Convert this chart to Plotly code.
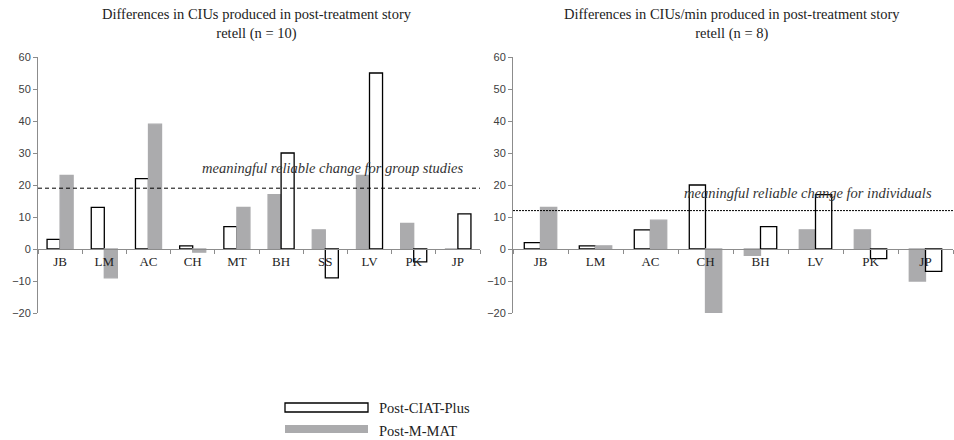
import plotly.graph_objects as go

# ---- data ----
cats1 = ["JB", "LM", "AC", "CH", "MT", "BH", "SS", "LV", "PK", "JP"]
ciat1 = [3, 13, 22, 1, 7, 30, -9, 55, -4, 11]
mmat1 = [23, -9, 39, -1, 13, 17, 6, 23, 8, 0]
ciat_first1 = [True, True, True, True, True, False, False, False, False, False]
threshold1 = 19

cats2 = ["JB", "LM", "AC", "CH", "BH", "LV", "PK", "JP"]
ciat2 = [2, 1, 6, 20, 7, 17, -3, -7]
mmat2 = [13, 1, 9, -20, -2, 6, 6, -10]
ciat_first2 = [True, True, True, True, False, False, False, False]
threshold2 = 12

title1 = "Differences in CIUs produced in post-treatment story<br>retell (n = 10)"
title2 = "Differences in CIUs/min produced in post-treatment story<br>retell (n = 8)"
note1 = "meaningful reliable change for group studies"
note2 = "meaningful reliable change for individuals"
legend_labels = ["Post-CIAT-Plus", "Post-M-MAT"]

# ---- styling ----
W, H = 954, 440
GRAY = "#ABABAD"
WHITE = "#FFFFFF"
AXIS = "#8C8C8C"
SERIF = "Liberation Serif, Times New Roman, serif"
SANS = "Liberation Sans, Arial, sans-serif"


def px_x(p):
    return p / W


def px_y(p):
    return 1 - p / H


fig = go.Figure()


def add_chart(cats, ciat, mmat, first, xa, ya):
    left_y, right_y, left_c, right_c, left_l, right_l = [], [], [], [], [], []
    for c, m, f in zip(ciat, mmat, first):
        if f:
            left_y.append(c); right_y.append(m)
            left_c.append(WHITE); right_c.append(GRAY)
            left_l.append("#000000"); right_l.append(GRAY)
        else:
            left_y.append(m); right_y.append(c)
            left_c.append(GRAY); right_c.append(WHITE)
            left_l.append(GRAY); right_l.append("#000000")
    for yy, cc, ll in ((left_y, left_c, left_l), (right_y, right_c, right_l)):
        fig.add_trace(go.Bar(
            x=cats, y=yy, xaxis=xa, yaxis=ya, showlegend=False,
            marker=dict(color=cc, line=dict(color=ll, width=1.3)),
        ))


add_chart(cats1, ciat1, mmat1, ciat_first1, "x", "y")
add_chart(cats2, ciat2, mmat2, ciat_first2, "x2", "y2")

ydom = [px_y(313), px_y(57)]
zero_pos = ydom[0] + 20 / 80 * (ydom[1] - ydom[0])

xcommon = dict(
    type="category", showline=True, linecolor=AXIS, linewidth=1,
    ticks="outside", tickson="boundaries", ticklen=4, tickcolor=AXIS,
    tickfont=dict(family=SERIF, size=13, color="#222222"),
    showgrid=False, zeroline=False, anchor="free", position=zero_pos,
    automargin=False,
)
ycommon = dict(
    range=[-20, 60], dtick=10, showline=True, linecolor=AXIS, linewidth=1,
    ticks="outside", ticklen=4, tickcolor=AXIS, showgrid=False, zeroline=False,
    tickfont=dict(family=SANS, size=11, color="#404040"), domain=ydom,
    automargin=False,
)

fig.update_layout(
    width=W, height=H, margin=dict(l=0, r=0, t=0, b=0, pad=0, autoexpand=False),
    paper_bgcolor="white", plot_bgcolor="white",
    barmode="group", bargap=0.41, bargroupgap=0,
    xaxis=dict(xcommon, domain=[px_x(38), px_x(480)]),
    yaxis=dict(ycommon, anchor="x"),
    xaxis2=dict(xcommon, domain=[px_x(513), px_x(953)]),
    yaxis2=dict(ycommon, anchor="x2"),
    showlegend=False,
)

shapes = [
    dict(type="line", xref="x domain", yref="y", x0=0, x1=1, y0=threshold1, y1=threshold1,
         line=dict(color="#000000", width=1, dash="4px,3px")),
    dict(type="line", xref="x2 domain", yref="y2", x0=0, x1=1, y0=threshold2, y1=threshold2,
         line=dict(color="#000000", width=1, dash="2px,1px")),
    # legend swatches
    dict(type="rect", xref="paper", yref="paper", x0=px_x(285), x1=px_x(368),
         y0=px_y(412), y1=px_y(403), line=dict(color="#000000", width=1.3), fillcolor=WHITE),
    dict(type="rect", xref="paper", yref="paper", x0=px_x(285), x1=px_x(368),
         y0=px_y(433), y1=px_y(425), line=dict(color=GRAY, width=0), fillcolor=GRAY),
]
fig.update_layout(shapes=shapes)

ann = [
    dict(text=title1, xref="paper", yref="paper", x=px_x(257), y=px_y(24), showarrow=False,
         font=dict(family=SERIF, size=14.5, color="#222222"), xanchor="center", yanchor="middle"),
    dict(text=title2, xref="paper", yref="paper", x=px_x(732), y=px_y(24), showarrow=False,
         font=dict(family=SERIF, size=14.5, color="#222222"), xanchor="center", yanchor="middle"),
    dict(text="<i>" + note1 + "</i>", xref="paper", yref="paper", x=px_x(332), y=px_y(168),
         showarrow=False, font=dict(family=SERIF, size=14.5, color="#333333"),
         xanchor="center", yanchor="middle"),
    dict(text="<i>" + note2 + "</i>", xref="paper", yref="paper", x=px_x(808), y=px_y(193),
         showarrow=False, font=dict(family=SERIF, size=14.5, color="#333333"),
         xanchor="center", yanchor="middle"),
    dict(text=legend_labels[0], xref="paper", yref="paper", x=px_x(377), y=px_y(408),
         showarrow=False, font=dict(family=SERIF, size=14.5, color="#222222"),
         xanchor="left", yanchor="middle"),
    dict(text=legend_labels[1], xref="paper", yref="paper", x=px_x(377), y=px_y(431),
         showarrow=False, font=dict(family=SERIF, size=14.5, color="#222222"),
         xanchor="left", yanchor="middle"),
]
fig.update_layout(annotations=ann)

fig.write_html("out.html", config={"displayModeBar": False},
               post_script="document.body.style.margin='0';")
